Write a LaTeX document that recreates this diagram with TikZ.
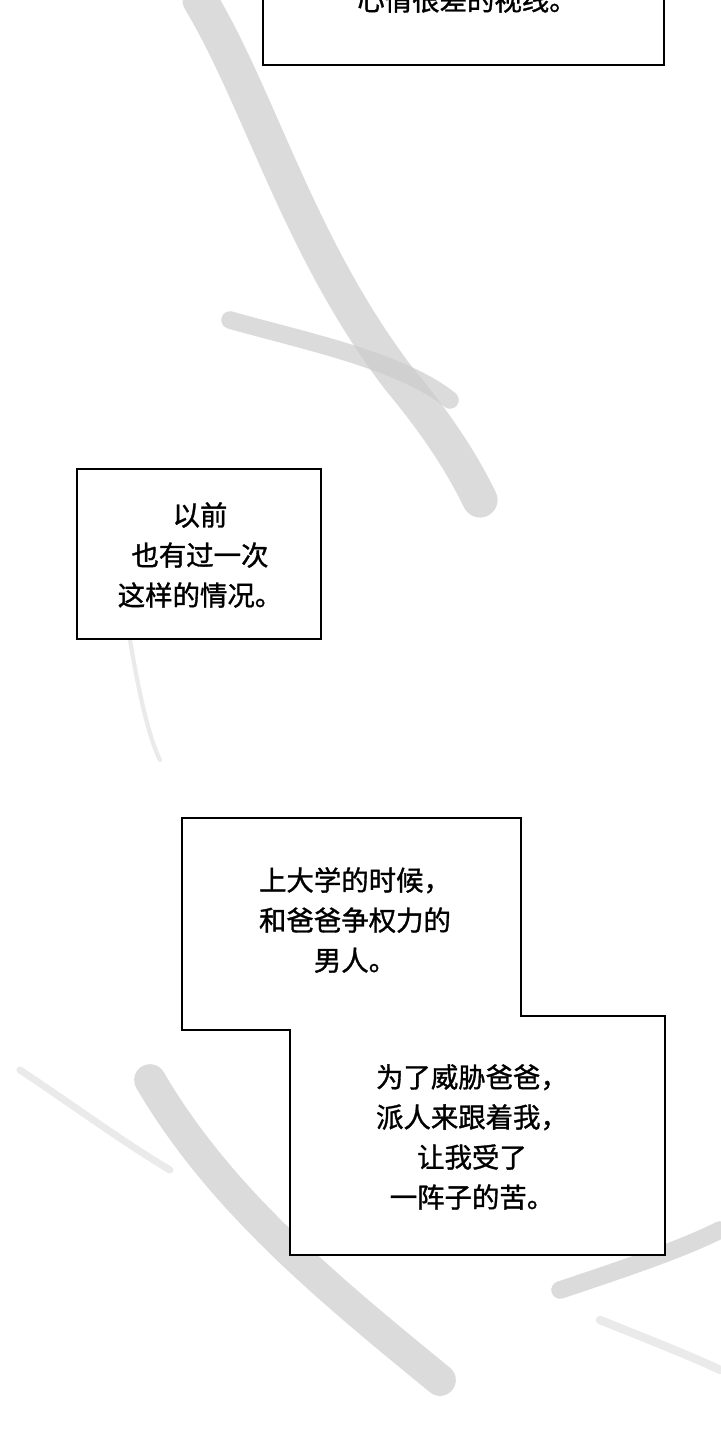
\documentclass[tikz,border=0pt]{standalone}
\usepackage{fontspec}
\newfontfamily\cjk[FakeBold=1.2]{Noto Sans CJK SC}
\begin{document}
\begin{tikzpicture}[x=0.05cm,y=-0.05cm,
  box/.style={draw=black,line width=2.4pt,fill=white},
  txt/.style={font=\cjk\fontsize{39}{57}\selectfont,align=center,inner sep=0},
  smudge/.style={line cap=round,draw=gray!40,opacity=0.7}]
\useasboundingbox (0,0) rectangle (720,1440);
\fill[white] (0,0) rectangle (720,1440);
% gray smudges
\draw[smudge,line width=50pt] (200,0) .. controls (260,100) and (300,250) .. (400,380) .. controls (450,440) and (470,480) .. (480,500);
\draw[smudge,line width=25pt] (230,320) .. controls (300,340) and (400,360) .. (450,400);
\draw[smudge,line width=6pt,opacity=0.4] (130,640) .. controls (140,700) and (150,740) .. (160,760);
\draw[smudge,line width=45pt] (150,1080) .. controls (220,1200) and (330,1290) .. (440,1380);
\draw[smudge,line width=10pt,opacity=0.4] (20,1070) .. controls (80,1110) and (120,1140) .. (170,1170);
\draw[smudge,line width=25pt] (560,1290) .. controls (620,1270) and (680,1250) .. (720,1230);
\draw[smudge,line width=12pt,opacity=0.4] (600,1320) .. controls (650,1340) and (700,1360) .. (720,1370);
% boxes
\draw[box] (263,-20) rectangle (664,65);
\node[txt] (t1) at (467,0) {心情很差的视线。};
\draw[box] (77,469) rectangle (321,639);
\node[txt] (t2) at (200,555) {以前\\也有过一次\\这样的情况。};
\draw[box] (182,818) -- (521,818) -- (521,1016) -- (665,1016) -- (665,1255) -- (290,1255) -- (290,1030) -- (182,1030) -- cycle;
\node[txt] (t3) at (355,920) {上大学的时候，\\和爸爸争权力的\\男人。};
\node[txt] (t4) at (472,1137) {为了威胁爸爸，\\派人来跟着我，\\让我受了\\一阵子的苦。};
\end{tikzpicture}
\end{document}
